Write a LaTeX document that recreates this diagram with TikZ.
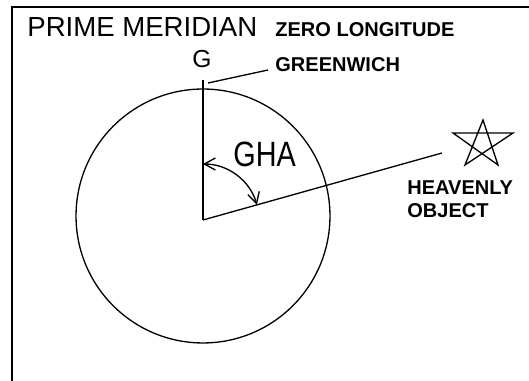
\documentclass[tikz,border=0pt]{standalone}
\usepackage{fontspec}
\setmainfont{Liberation Sans}
\usetikzlibrary{arrows.meta,calc}

\begin{document}
\begin{tikzpicture}[
  x=0.02cm, y=0.02cm,
  >={Straight Barb[length=2.2mm,width=2.4mm]},
  lbl/.style={inner sep=0pt,font=\bfseries\fontsize{11.4}{12}\selectfont},
  big/.style={inner sep=0pt,font=\fontsize{15.7}{17}\selectfont},
  ln/.style={line width=0.75pt}
]
\useasboundingbox (0,0) rectangle (529,-381);
% frame (open to the right and below)
\draw[line width=1.1pt] (12,-381) |- (529,-7);
% titles
\node[big,anchor=base west] (pm) at (27,-37) {PRIME MERIDIAN};
\node[lbl,anchor=base west] (zl) at (275,-37) {ZERO LONGITUDE};
\node[inner sep=0pt,font=\fontsize{14}{16}\selectfont,anchor=base] (G) at (202,-68) {G};
\node[lbl,anchor=base west] (gw) at (275,-72) {GREENWICH};
% earth and meridian
\coordinate (O) at (203,-220);
\node[draw,ln,circle,minimum size=5.08cm,inner sep=0pt] (earth) at (203,-216) {};
\coordinate (top) at (203,-80);
\draw[ln] (O) -- (top);
\coordinate (lead) at (208,-83);
\coordinate (leadend) at (268,-70);
\draw[ln] (lead) -- (leadend);
% hour angle to the object
\coordinate (ray) at (442,-153);
\draw[ln] (O) -- (ray);
\draw[ln,<->] ($(O)+(90:1.12cm)$) arc[start angle=90,end angle=15.7,radius=1.12cm];
\node[inner sep=0pt,font=\fontsize{20}{22}\selectfont,anchor=base west] (gha) at (233,-167) {\scalebox{0.82}[1]{GHA}};
% heavenly object
\coordinate (s1) at (483,-120);
\coordinate (s2) at (465,-165);
\coordinate (s3) at (513,-133);
\coordinate (s4) at (453,-133);
\coordinate (s5) at (498,-165);
\draw[ln] (s1) -- (s2) -- (s3) -- (s4) -- (s5) -- cycle;
\node[lbl,anchor=base west] (ho1) at (407,-195) {HEAVENLY};
\node[lbl,anchor=base west] (ho2) at (407,-218) {OBJECT};
\end{tikzpicture}
\end{document}
